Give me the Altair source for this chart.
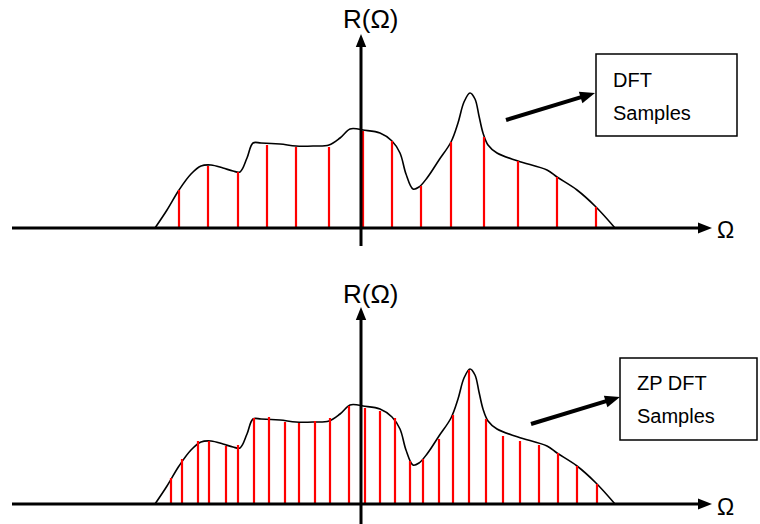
import altair as alt
import pandas as pd

# Continuous spectrum R(Ω): knot points of the smooth envelope (Ω, R)
omega_curve = [-206, -194, -182, -170, -160, -150, -138, -128, -121, -114, -108, -100,
               -81, -65, -48, -32, -21, -11, -3, 2, 19, 31, 39, 45, 52, 58, 66, 78,
               90, 97, 103, 109, 114, 118, 122, 127, 136, 157, 186, 196, 216, 235, 254]
r_curve = [0, 18, 38, 54, 62, 63, 60, 57, 56, 70, 85, 85,
           84, 82, 82, 83, 90, 99, 99, 98, 95, 87, 75, 54, 39, 41, 50, 68,
           86, 105, 126, 135, 129, 112, 95, 83, 75, 67, 58, 51, 38, 21, 0]

# DFT samples
omega_dft = [-182, -153, -123, -94, -65, -32, 2, 31, 60, 90, 123, 157, 196, 235]
r_dft = [38, 62, 56, 83, 81, 81, 97, 87, 42, 86, 91, 67, 51, 21]

# Zero-padded DFT samples
omega_zp = [-190, -179, -163, -152, -135, -123, -107, -92, -76, -62, -46, -31, -12, 4,
            19, 34, 49, 62, 78, 92, 108, 125, 142, 159, 178, 197, 216, 236]
r_zp = [26, 45, 63, 63, 58, 59, 86, 87, 82, 81, 83, 86, 98, 96,
        93, 86, 43, 45, 65, 89, 134, 85, 68, 63, 59, 51, 38, 20]

FONT = "Liberation Sans"
ARROW = "M1,0L-1,-0.8L-1,0.8Z"

curve_df = pd.DataFrame({"omega": omega_curve, "r": r_curve})


def row(**kw):
    return pd.DataFrame([kw])


def panel(omega_s, r_s, y_domain, label_lines, box, pointer, v_axis, r_label_y, om_label_y):
    xs = alt.Scale(domain=[-361, 399], nice=False, zero=False)
    ys = alt.Scale(domain=y_domain, nice=False, zero=False)
    X = lambda f: alt.X(f, type="quantitative", scale=xs, axis=None)
    Y = lambda f: alt.Y(f, type="quantitative", scale=ys, axis=None)
    stems = pd.DataFrame({"omega": omega_s, "r": r_s, "base": [0] * len(omega_s)})

    curve = alt.Chart(curve_df).mark_line(
        interpolate="catmull-rom", color="black", strokeWidth=1.6
    ).encode(x=X("omega"), y=Y("r"), order=alt.Order("omega:Q"))

    samples = alt.Chart(stems).mark_rule(color="#ff0000", strokeWidth=2.2).encode(
        x=X("omega"), y=Y("base"), y2="r:Q"
    )

    # Ω axis with arrowhead
    h_axis = alt.Chart(row(a=-349, b=342, y=0)).mark_rule(color="black", strokeWidth=3).encode(
        x=X("a"), x2="b:Q", y=Y("y")
    )
    h_head = alt.Chart(row(x=344, y=0)).mark_point(
        shape=ARROW, filled=True, color="black", opacity=1, size=196, strokeWidth=0
    ).encode(x=X("x"), y=Y("y"))

    # R axis with arrowhead
    v_lo, v_hi, v_tip = v_axis
    v_line = alt.Chart(row(x=0, a=v_lo, b=v_hi)).mark_rule(color="black", strokeWidth=3).encode(
        x=X("x"), y=Y("a"), y2="b:Q"
    )
    v_head = alt.Chart(row(x=0, y=v_tip - 6.5)).mark_point(
        shape=ARROW, filled=True, color="black", opacity=1, size=169, strokeWidth=0, angle=270
    ).encode(x=X("x"), y=Y("y"))

    r_lab = alt.Chart(row(x=-18, y=r_label_y, t="R(Ω)")).mark_text(
        font=FONT, fontSize=26, align="left", baseline="alphabetic", color="black"
    ).encode(x=X("x"), y=Y("y"), text="t:N")
    om_lab = alt.Chart(row(x=356, y=om_label_y, t="Ω")).mark_text(
        font=FONT, fontSize=23, align="left", baseline="alphabetic", color="black"
    ).encode(x=X("x"), y=Y("y"), text="t:N")

    # Callout box with pointer arrow
    bx0, bx1, by0, by1 = box
    rect = alt.Chart(row(a=bx0, b=bx1, c=by0, d=by1)).mark_rect(
        fill="white", stroke="black", strokeWidth=1.5
    ).encode(x=X("a"), x2="b:Q", y=Y("c"), y2="d:Q")

    t0x, t0y, tipx, tipy = pointer
    ptr_line = alt.Chart(row(a=t0x, b=tipx - 10.5, c=t0y, d=tipy - 3.2)).mark_rule(
        color="black", strokeWidth=4
    ).encode(x=X("a"), x2="b:Q", y=Y("c"), y2="d:Q")
    ptr_head = alt.Chart(row(x=tipx - 7.2, y=tipy - 2.2)).mark_point(
        shape=ARROW, filled=True, color="black", opacity=1, size=225, strokeWidth=0, angle=343
    ).encode(x=X("x"), y=Y("y"))

    lines_df = pd.DataFrame(label_lines, columns=["x", "y", "t"])
    box_text = alt.Chart(lines_df).mark_text(
        font=FONT, fontSize=20, align="left", baseline="alphabetic", color="black"
    ).encode(x=X("x"), y=Y("y"), text="t:N")

    return alt.layer(
        curve, samples, h_axis, h_head, v_line, v_head, r_lab, om_lab,
        rect, ptr_line, ptr_head, box_text
    ).properties(width=760, height=262)


top = panel(
    omega_dft, r_dft, [-34, 228],
    [(252, 141, "DFT"), (252, 108, "Samples")],
    (235, 376, 174, 92),
    (145, 108, 234, 135),
    (-18, 186, 194),
    200, -10,
)
bottom = panel(
    omega_zp, r_zp, [-20, 242],
    [(276, 114, "ZP DFT"), (276, 81, "Samples")],
    (259, 396, 146, 64),
    (170, 80, 259, 107),
    (-20, 189, 197),
    201, -11,
)

chart = alt.vconcat(top, bottom, spacing=0).properties(padding=0).configure_view(
    stroke=None
)

chart.save("out.html", embed_options={"renderer": "svg", "actions": False})
